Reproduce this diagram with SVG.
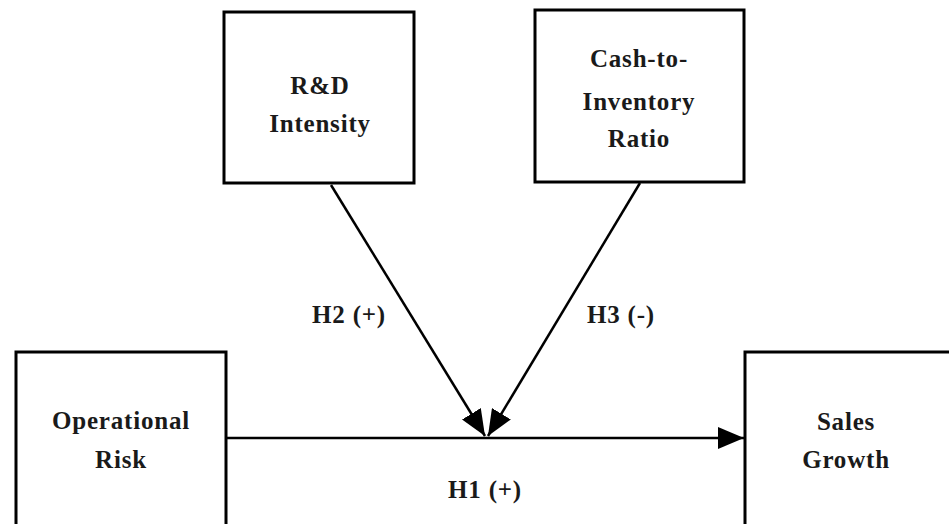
<svg xmlns="http://www.w3.org/2000/svg" width="949" height="524" viewBox="0 0 949 524">
<style>
.box{fill:#fff;stroke:#000;stroke-width:3}
.t{font-family:"Liberation Serif","DejaVu Serif",serif;font-weight:bold;font-size:25px;letter-spacing:0.8px;fill:#1a1a1a;text-anchor:middle}
.c{stroke:#000;stroke-width:2.5;fill:none}
</style>
<defs>
<marker id="ah2" markerWidth="26" markerHeight="22" refX="26" refY="11" orient="auto" markerUnits="userSpaceOnUse" viewBox="0 0 26 22">
<path d="M0,0 L26,11 L0,22 z" fill="#000"/>
</marker>
</defs>
<g id="rd"><rect class="box" x="224" y="12" width="190" height="171"/>
<text class="t" x="320" y="94">R&amp;D</text><text class="t" x="320" y="132">Intensity</text></g>
<g id="cash"><rect class="box" x="535" y="10" width="209" height="172"/>
<text class="t" x="639" y="67">Cash-to-</text><text class="t" x="639" y="110">Inventory</text><text class="t" x="639" y="147">Ratio</text></g>
<g id="oprisk"><rect class="box" x="16" y="352" width="210" height="190"/>
<text class="t" x="121" y="429">Operational</text><text class="t" x="121" y="468">Risk</text></g>
<g id="sales"><rect class="box" x="745" y="352" width="220" height="190"/>
<text class="t" x="846" y="430">Sales</text><text class="t" x="846" y="468">Growth</text></g>
<g id="connectors">
<line class="c" x1="226" y1="438" x2="744" y2="438" marker-end="url(#ah2)"/>
<line class="c" x1="331" y1="185" x2="485" y2="436" marker-end="url(#ah2)"/>
<line class="c" x1="640" y1="183" x2="488" y2="436" marker-end="url(#ah2)"/>
<text class="t" x="349" y="323">H2 (+)</text>
<text class="t" x="621" y="323">H3 (-)</text>
<text class="t" x="485" y="498">H1 (+)</text>
</g>
</svg>
